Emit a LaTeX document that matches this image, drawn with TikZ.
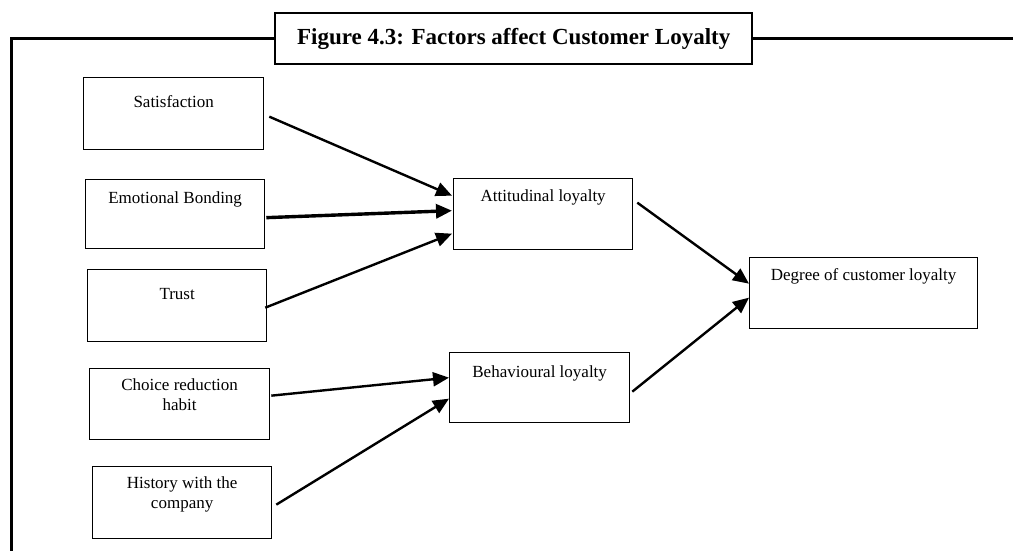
\documentclass[tikz,border=0pt]{standalone}
\usepackage{fontspec}
\setmainfont{Liberation Serif}
\usetikzlibrary{arrows.meta}
\begin{document}
\begin{tikzpicture}[x=1pt,y=-1pt,
  box/.style={draw, line width=1.3pt, rectangle, inner sep=0pt, anchor=north west},
  lbl/.style={font=\fontsize{17}{20}\selectfont, align=center, inner sep=0pt},
  conn/.style={line width=2.4pt, -{Triangle[length=16pt,width=14pt]}},
  frame/.style={line width=3pt}]
\useasboundingbox (0,0) rectangle (1013,550);
% frame
\coordinate (fl) at (11,38);
\coordinate (fr) at (1013,38);
\coordinate (fb) at (11,551);
\node[draw, line width=2.4pt, minimum width=477pt, minimum height=51pt, inner sep=0pt, anchor=north west, fill=white,
  font=\fontsize{23}{27}\selectfont\bfseries] (title) at (274,12) {Figure 4.3: Factors affect Customer Loyalty};
\draw[frame, line cap=rect] (fb) -- (fl) -- (title.west |- fl);
\draw[frame] (title.east |- fr) -- (fr);
% boxes
\node[box, minimum width=180pt, minimum height=72pt] (sat) at (83,77) {};
\node[box, minimum width=179pt, minimum height=69pt] (emo) at (85,179) {};
\node[box, minimum width=179pt, minimum height=72pt] (trust) at (87,269) {};
\node[box, minimum width=180pt, minimum height=71pt] (choice) at (89,368) {};
\node[box, minimum width=179pt, minimum height=72pt] (hist) at (92,466) {};
\node[box, minimum width=179pt, minimum height=71pt] (att) at (453,178) {};
\node[box, minimum width=180pt, minimum height=70pt] (beh) at (449,352) {};
\node[box, minimum width=228pt, minimum height=71pt] (deg) at (749,257) {};
% labels
\node[lbl] (satt) at ([shift={(0,25)}]sat.north) {Satisfaction};
\node[lbl] (emot) at ([shift={(0,20)}]emo.north) {Emotional Bonding};
\node[lbl] (trustt) at ([shift={(0,25)}]trust.north) {Trust};
\node[lbl, anchor=north] (choicet) at ([shift={(0,10)}]choice.north) {Choice reduction\\habit};
\node[lbl, anchor=north] (histt) at ([shift={(0,10)}]hist.north) {History with the\\company};
\node[lbl] (attt) at ([shift={(0,19)}]att.north) {Attitudinal loyalty};
\node[lbl] (beht) at ([shift={(0,21)}]beh.north) {Behavioural loyalty};
\node[lbl] (degt) at ([shift={(0,19)}]deg.north) {Degree of customer loyalty};
% connectors
\draw[conn] ([shift={(5,3)}]sat.east) -- ([shift={(-1,-18.5)}]att.west);
\draw[conn, line width=3.4pt] ([shift={(1,3.5)}]emo.east) -- ([shift={(-1,-3.5)}]att.west);
\draw[conn] ([shift={(-2,2)}]trust.east) -- ([shift={(-1,19.5)}]att.west);
\draw[conn] ([shift={(1,-8.5)}]choice.east) -- ([shift={(0,-10)}]beh.west);
\draw[conn] ([shift={(4,2)}]hist.east) -- ([shift={(0,11)}]beh.west);
\draw[conn] ([shift={(4,-11.5)}]att.east) -- ([shift={(0,-9.5)}]deg.west);
\draw[conn] ([shift={(2,4)}]beh.east) -- ([shift={(0,4.5)}]deg.west);
\end{tikzpicture}
\end{document}
